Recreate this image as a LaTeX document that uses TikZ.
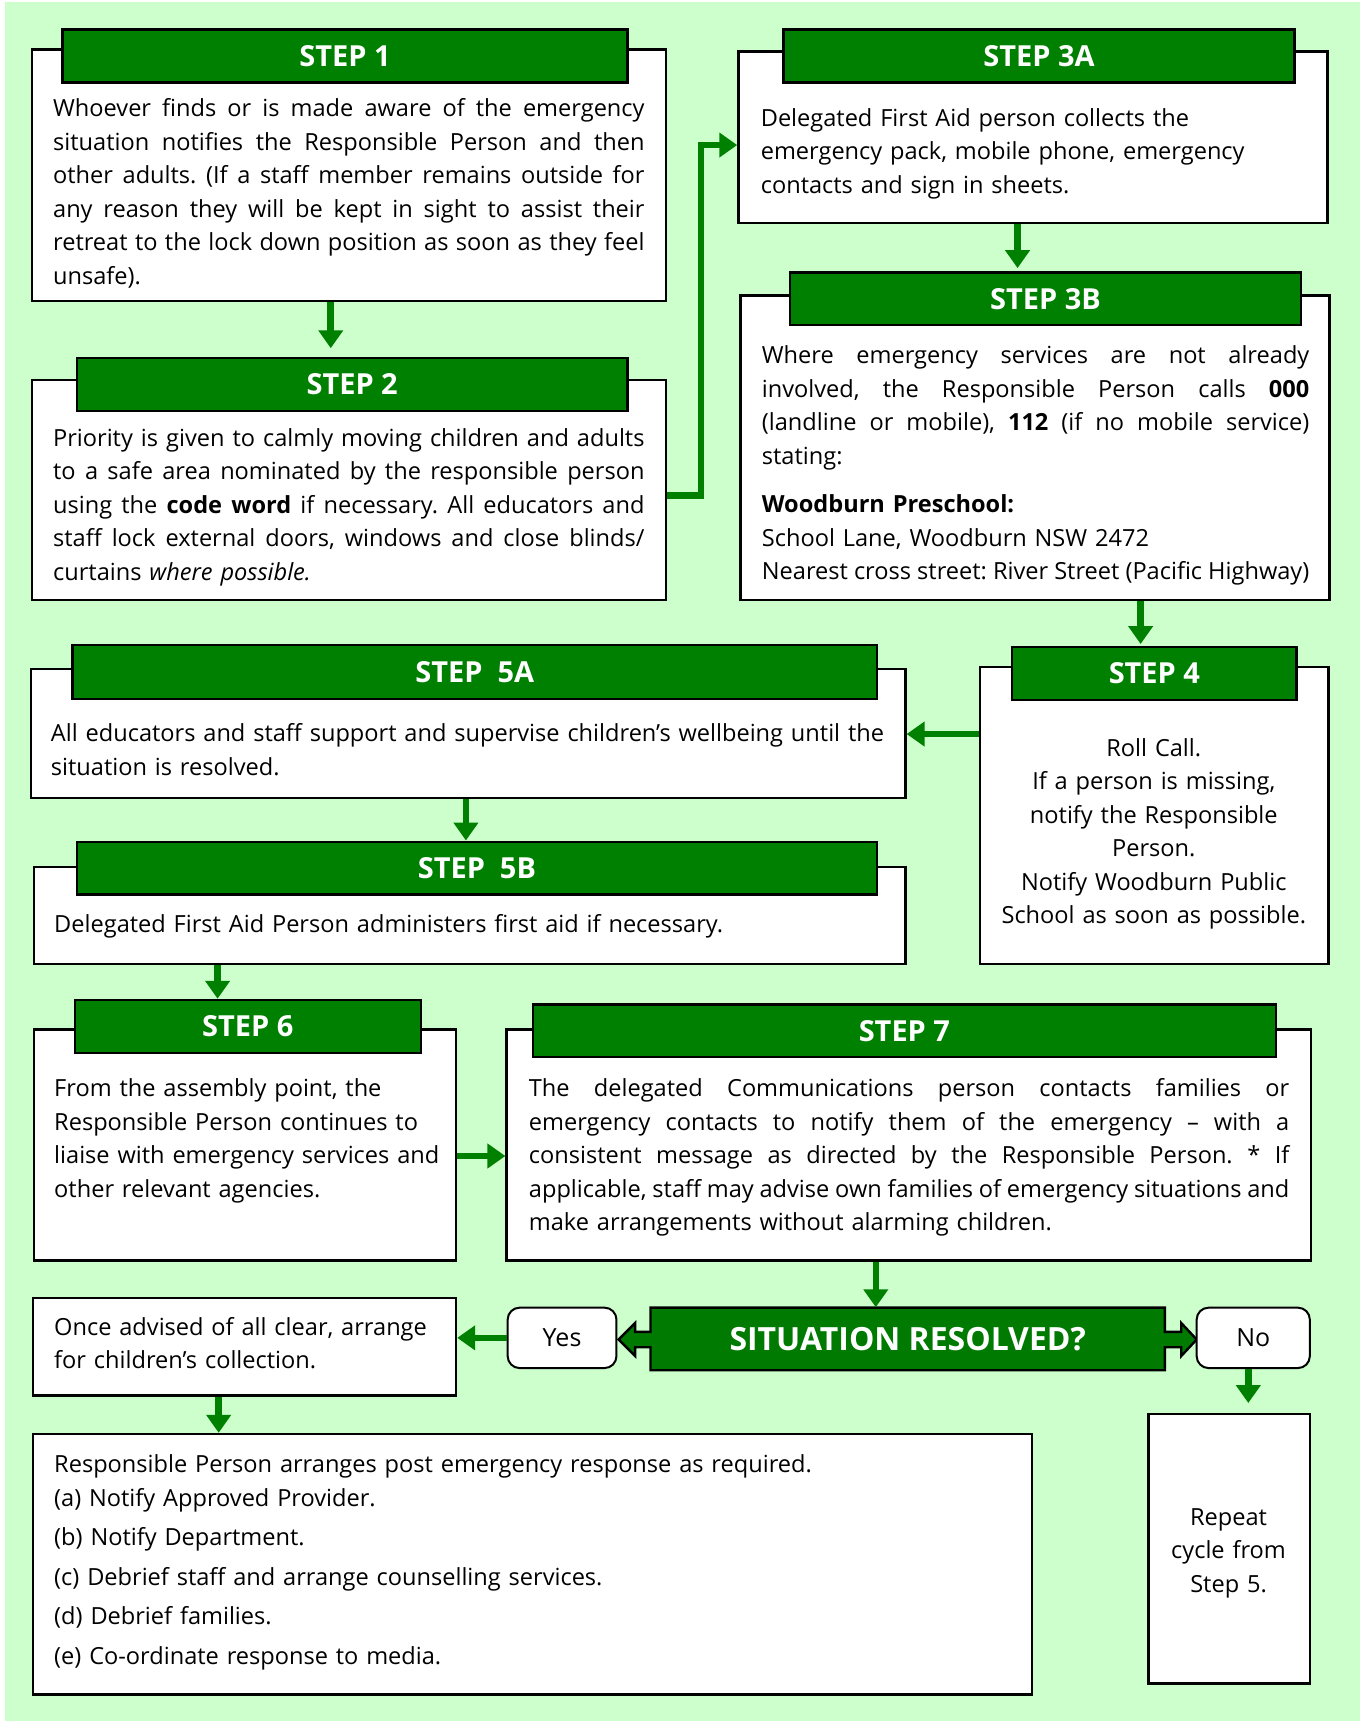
\documentclass[tikz,border=0pt]{standalone}
\usepackage{fontspec}
\setmainfont{Open Sans}
\frenchspacing
\usepackage{tikz}
\usetikzlibrary{arrows.meta, fit}

\definecolor{bgmint}{HTML}{CCFFCC}
\definecolor{stepgreen}{HTML}{008000}
\definecolor{decgreen}{HTML}{007A00}

% justified line of a box text
\newcommand{\jus}[1]{\makebox[\hsize][s]{%
    \spaceskip=.26em plus 1fil minus .1em\relax
    \xspaceskip=\spaceskip #1}}

\begin{document}
\begin{tikzpicture}[
    x=0.55pt, y=-0.55pt,
    box/.style={
        draw=black, line width=1.2pt, fill=white, inner sep=0pt
    },
    head/.style={
        draw=black, line width=1.2pt, fill=stepgreen, inner sep=0pt
    },
    headlbl/.style={
        inner sep=0pt, text=white,
        font=\fontsize{14.5}{17}\selectfont\bfseries
    },
    body/.style={
        inner sep=0pt, anchor=base west, align=left,
        font=\fontsize{11.8}{16.8}\selectfont
    },
    choice/.style={
        draw=black, line width=1pt, fill=white, rounded corners=6pt,
        inner sep=0pt
    },
    choicelbl/.style={inner sep=0pt, font=\fontsize{12.5}{15}\selectfont},
    decshape/.style={draw=black, line width=1.2pt, fill=decgreen},
    declbl/.style={
        inner sep=0pt, text=white,
        font=\fontsize{16}{19}\selectfont\bfseries
    },
    arrow/.style={
        color=stepgreen, line width=3.3pt,
        -{Triangle[width=12pt, length=9pt]}
    },
]

\useasboundingbox (0,0) rectangle (1242,1568);
\fill[bgmint] (5,2) rectangle (1238,1566);

% Step 1
\node[box, fit={(29,45) (606,274)}] (s1) {};
\node[head, fit={(57,27) (571,75)}, label={[headlbl]center:STEP 1}] (h1) {};
\node[body, text width=296pt] (t1) at (48,106) {%
    \jus{Whoever finds or is made aware of the emergency}\\
    \jus{situation notifies the Responsible Person and then}\\
    \jus{other adults. (If a staff member remains outside for}\\
    \jus{any reason they will be kept in sight to assist their}\\
    \jus{retreat to the lock down position as soon as they feel}\\
    unsafe).};

% Step 2
\node[box, fit={(29,346) (606,546)}] (s2) {};
\node[head, fit={(70,326) (571,374)}, label={[headlbl]center:STEP 2}] (h2) {};
\node[body, text width=296pt] (t2) at (48,406) {%
    \jus{Priority is given to calmly moving children and adults}\\
    \jus{to a safe area nominated by the responsible person}\\
    \jus{using the \textbf{code word} if necessary. All educators and}\\
    \jus{staff lock external doors, windows and close blinds/}\\
    curtains \textit{where possible.}};

% Step 3A
\node[box, fit={(672,47) (1208,203)}] (s3a) {};
\node[head, fit={(713,27) (1178,75)}, label={[headlbl]center:STEP 3A}] (h3a) {};
\node[body, text width=280pt] (t3a) at (692,115) {%
    Delegated First Aid person collects the\\
    emergency pack, mobile phone, emergency\\
    contacts and sign in sheets.};

% Step 3B
\node[box, fit={(674,269) (1210,546)}] (s3b) {};
\node[head, fit={(719,248) (1184,296)}, label={[headlbl]center:STEP 3B}] (h3b) {};
\node[body, text width=274pt] (t3b) at (693,331) {%
    \jus{Where emergency services are not already}\\
    \jus{involved, the Responsible Person calls \textbf{000}}\\
    \jus{(landline or mobile), \textbf{112} (if no mobile service)}\\
    stating:\\[7.4pt]
    \textbf{Woodburn Preschool:}\\
    School Lane, Woodburn NSW 2472\\
    \jus{Nearest cross street: River Street (Pacific Highway)}};

% Step 4
\node[box, fit={(892,607) (1209,877)}] (s4) {};
\node[head, fit={(921,589) (1180,637)}, label={[headlbl]center:STEP 4}] (h4) {};
\node[body, anchor=base, align=center, text width=165pt] (t4) at (1050,688) {%
    Roll Call.\\
    If a person is missing,\\
    notify the Responsible\\
    Person.\\
    Notify Woodburn Public\\
    School as soon as possible.};

% Step 5A / 5B
\node[box, fit={(28,609) (824,726)}] (s5a) {};
\node[head, fit={(66,587) (798,636)}, label={[headlbl]center:STEP~~5A}] (h5a) {};
\node[body, text width=425pt] (t5a) at (46,675) {%
    All educators and staff support and supervise children’s wellbeing until the\\
    situation is resolved.};

\node[box, fit={(31,789) (824,877)}] (s5b) {};
\node[head, fit={(70,766) (798,814)}, label={[headlbl]center:STEP~~5B}] (h5b) {};
\node[body, text width=420pt] (t5b) at (49,849) {%
    Delegated First Aid Person administers first aid if necessary.};

% Step 6 / 7
\node[box, fit={(31,937) (415,1147)}] (s6) {};
\node[head, fit={(68,910) (383,958)}, label={[headlbl]center:STEP 6}] (h6) {};
\node[body, text width=200pt] (t6) at (49,998) {%
    From the assembly point, the\\
    Responsible Person continues to\\
    liaise with emergency services and\\
    other relevant agencies.};

\node[box, fit={(461,937) (1193,1147)}] (s7) {};
\node[head, fit={(485,914) (1161,962)}, label={[headlbl]center:STEP 7}] (h7) {};
\node[body, text width=380.6pt] (t7) at (481,998) {%
    \jus{The delegated Communications person contacts families or}\\
    \jus{emergency contacts to notify them of the emergency -- with a}\\
    \jus{consistent message as directed by the Responsible Person. * If}\\
    \jus{applicable, staff may advise own families of emergency situations and}\\
    make arrangements without alarming children.};

% Decision
\filldraw[decshape] (592,1190) -- (1060,1190) -- (1060,1212) -- (1075,1212)
    -- (1075,1204) -- (1089,1219) -- (1075,1234) -- (1075,1226) -- (1060,1226)
    -- (1060,1247) -- (592,1247) -- (592,1226) -- (578,1226) -- (578,1234)
    -- (563,1219) -- (578,1204) -- (578,1212) -- (592,1212) -- cycle;
\node[inner sep=0pt, fit={(592,1190) (1060,1247)},
    label={[declbl]center:SITUATION RESOLVED?}] (dec) {};
\node[choice, fit={(462,1190) (561,1245)}, label={[choicelbl]center:Yes}] (yes) {};
\node[choice, fit={(1089,1190) (1192,1245)}, label={[choicelbl]center:No}] (no) {};

% Outcomes
\node[box, fit={(30,1181) (415,1270)}] (col) {};
\node[body, text width=205pt] (tcol) at (49,1215) {%
    Once advised of all clear, arrange\\
    for children’s collection.};

\node[box, fit={(30,1305) (939,1542)}] (post) {};
\node[body, text width=480pt] (tpost) at (49,1340) {%
    Responsible Person arranges post emergency response as required.\\
    (a) Notify Approved Provider.\\[3pt]
    (b) Notify Department.\\[3pt]
    (c) Debrief staff and arrange counselling services.\\[3pt]
    (d) Debrief families.\\[3pt]
    (e) Co-ordinate response to media.};

\node[box, fit={(1045,1287) (1192,1532)}] (rep) {};
\node[body, anchor=base, align=center, text width=75pt] (trep) at (1118,1388) {%
    Repeat\\
    cycle from\\
    Step 5.};

% Arrows
\draw[arrow, shorten >=4.4pt] (s1.south -| 301,0) -- (h2.north -| 301,0);
\draw[arrow] (s2.east |- 0,451) -- (638,451) |- (s3a.west |- 0,132);
\draw[arrow, shorten >=1.6pt] (s3a.south -| 926,0) -- (h3b.north -| 926,0);
\draw[arrow, shorten >=1pt] (s3b.south -| 1038,0) -- (h4.north -| 1038,0);
\draw[arrow] (s4.west |- 0,668) -- (s5a.east |- 0,668);
\draw[arrow] (s5a.south -| 424,0) -- (h5b.north -| 424,0);
\draw[arrow] (s5b.south -| 198,0) -- (h6.north -| 198,0);
\draw[arrow] (s6.east |- 0,1052) -- (s7.west |- 0,1052);
\draw[arrow] (s7.south -| 797,0) -- (dec.north -| 797,0);
\draw[arrow] (yes.west) -- (col.east |- yes.west);
\draw[arrow, shorten >=5pt] (no.south -| 1136,0) -- (rep.north -| 1136,0);
\draw[arrow] (col.south -| 199,0) -- (post.north -| 199,0);

\end{tikzpicture}
\end{document}
